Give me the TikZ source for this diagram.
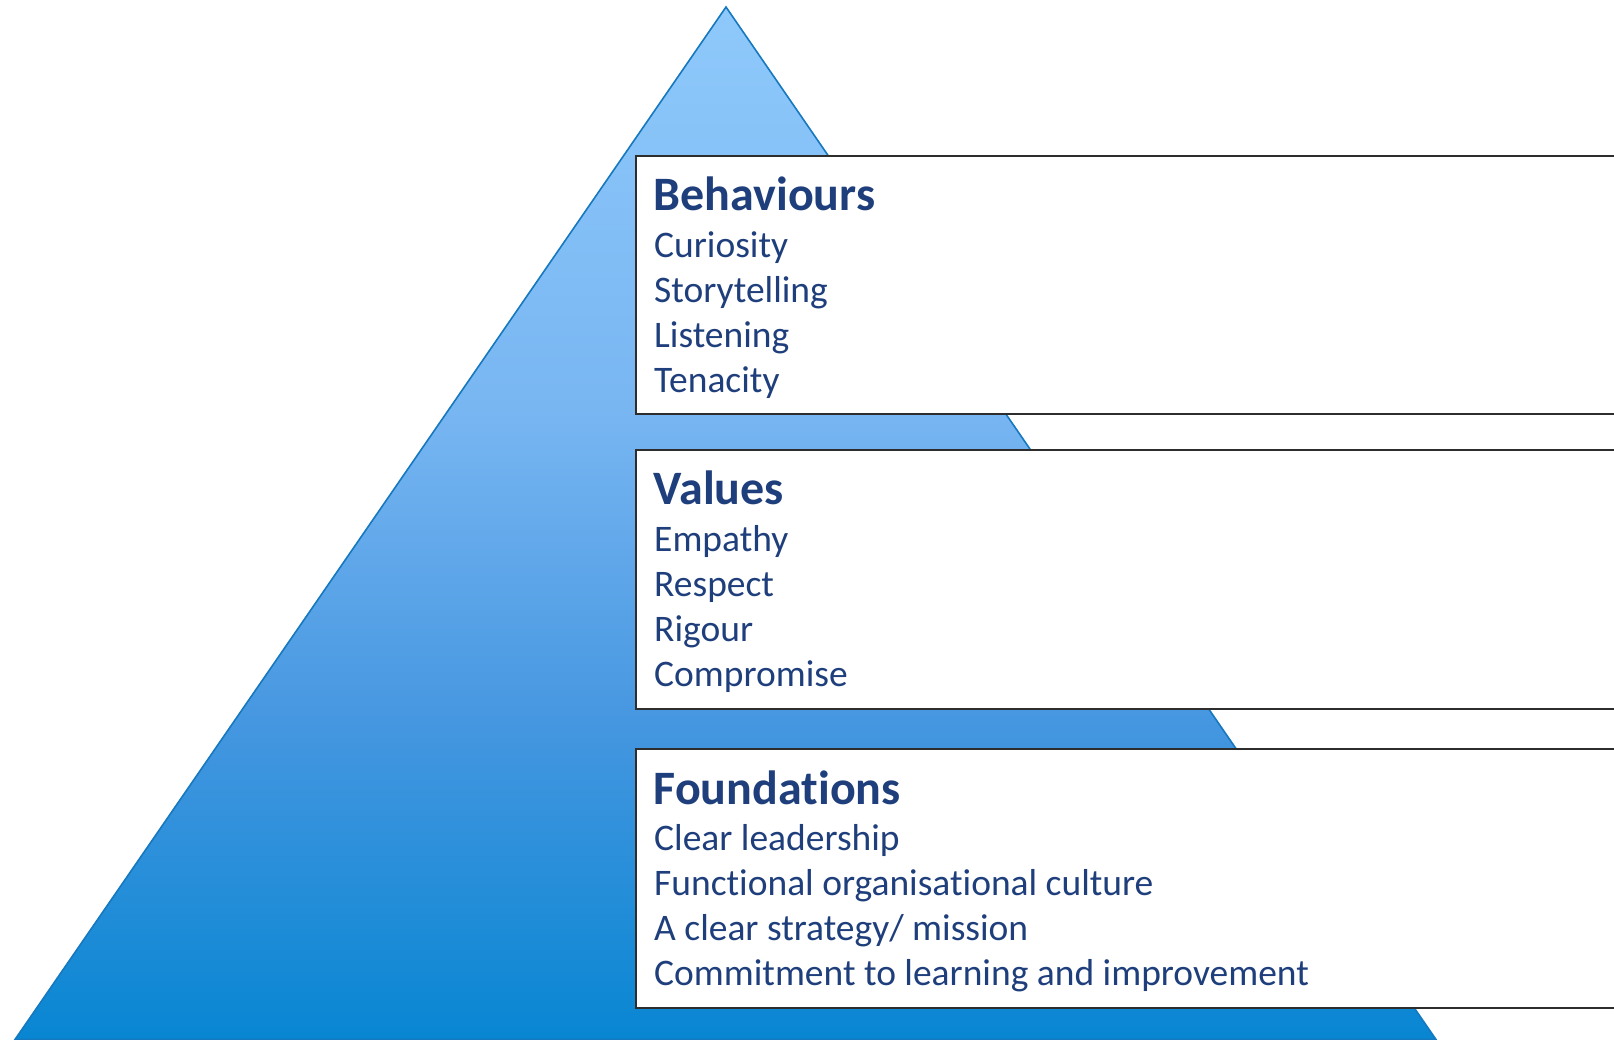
\documentclass[tikz,border=0pt]{standalone}
\usepackage{fontspec}
\setmainfont{Carlito}[Ligatures=NoCommon]
\definecolor{txtblue}{RGB}{31,63,124}
\definecolor{topblue}{RGB}{143,201,251}
\definecolor{upblue}{RGB}{120,182,242}
\definecolor{lowblue}{RGB}{68,150,224}
\definecolor{botblue}{RGB}{8,134,210}
\definecolor{edgeblue}{RGB}{22,120,190}
\definecolor{boxline}{RGB}{45,45,45}
% vertical fill of the pyramid; 25bp..75bp spans the filled path
\pgfdeclareverticalshading{pyramidfill}{100bp}{%
  color(0bp)=(botblue); color(25bp)=(botblue); color(40bp)=(lowblue);
  color(55.5bp)=(upblue); color(75bp)=(topblue); color(100bp)=(topblue)}
\begin{document}
\begin{tikzpicture}[x=1pt,y=-1pt,
  panel/.style={draw=boxline, line width=1.8pt, fill=white, anchor=north west,
    minimum width=1100pt, inner sep=0pt},
  heading/.style={anchor=base west, inner sep=0pt, text=txtblue,
    font=\fontsize{48}{54}\selectfont\bfseries},
  item/.style={anchor=base west, inner sep=0pt, text=txtblue,
    font=\fontsize{37.5}{45}\selectfont}]
\useasboundingbox (0,0) rectangle (1614,1039);
\clip (0,0) rectangle (1614,1039);

% pyramid
\coordinate (apex) at (726,7);
\coordinate (baseR) at (1436,1039.5);
\coordinate (baseL) at (15,1039.5);
\draw[edgeblue, line width=1.6pt, shading=pyramidfill]
  (apex) -- (baseR) -- (baseL) -- cycle;

% panels
\node[panel, minimum height=258pt] (behaviours) at (635,155) {};
\node[panel, minimum height=259pt] (values) at (635,449) {};
\node[panel, minimum height=259pt] (foundations) at (635,748) {};

% Behaviours
\node[heading] (bT) at (653.5,210.5) {Behaviours};
\node[item] (b1) at (654,257.5) {Curiosity};
\node[item] (b2) at (654,302.5) {Storytelling};
\node[item] (b3) at (654,347.5) {Listening};
\node[item] (b4) at (654,392.5) {Tenacity};

% Values
\node[heading] (vT) at (653.5,504.5) {Values};
\node[item] (v1) at (654,551.5) {Empathy};
\node[item] (v2) at (654,596.5) {Respect};
\node[item] (v3) at (654,641.5) {Rigour};
\node[item] (v4) at (654,686.5) {Compromise};

% Foundations
\node[heading] (fT) at (653.5,804) {Foundations};
\node[item] (f1) at (654,850.5) {Clear leadership};
\node[item] (f2) at (654,895.5) {Functional organisational culture};
\node[item] (f3) at (654,940.5) {A clear strategy/ mission};
\node[item] (f4) at (654,985.5) {Commitment to learning and improvement};
\end{tikzpicture}
\end{document}
